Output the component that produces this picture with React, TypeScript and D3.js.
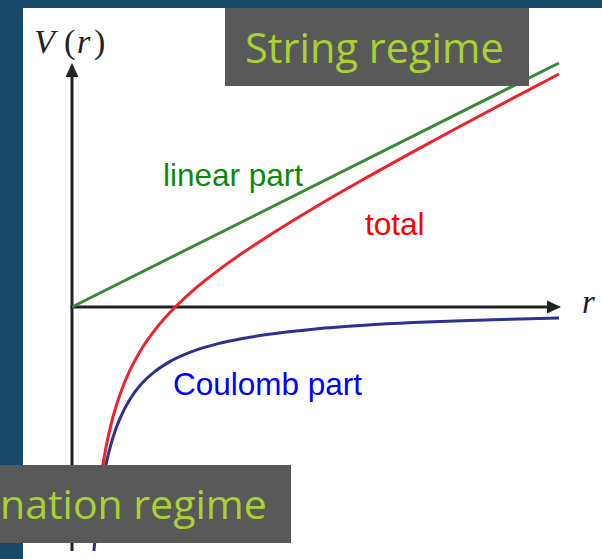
import React from "react";
import * as d3 from "d3";

// Radial distance samples and potential values (arbitrary units)
const linearR = [0, 10];
const linearV = [0, 10];

const coulombR = [0.45, 0.5, 0.55, 0.6, 0.7, 0.8, 0.9, 1.0, 1.2, 1.4, 1.7, 2.0, 2.5, 3.0, 3.5, 4.0, 5.0, 6.0, 7.0, 8.0, 9.0, 10];
const coulombV = [-10.0, -9.0, -8.18, -7.5, -6.43, -5.63, -5.0, -4.5, -3.75, -3.21, -2.65, -2.25, -1.8, -1.5, -1.29, -1.13, -0.9, -0.75, -0.64, -0.56, -0.5, -0.45];

const totalR = [0.46, 0.5, 0.55, 0.6, 0.7, 0.8, 0.9, 1.0, 1.2, 1.4, 1.7, 2.0, 2.5, 3.0, 3.5, 4.0, 5.0, 6.0, 7.0, 8.0, 9.0, 10];
const totalV = [-9.32, -8.5, -7.63, -6.9, -5.73, -4.83, -4.1, -3.5, -2.55, -1.81, -0.95, -0.25, 0.7, 1.5, 2.21, 2.87, 4.1, 5.25, 6.36, 7.44, 8.5, 9.55];

const labels = { linear: "linear part", total: "total", coulomb: "Coulomb part" };
const regimeTop = "String regime";
const regimeBottom = "nation regime";

const W = 602;
const H = 559;

export default function App() {
  const x = d3.scaleLinear().domain([0, 10]).range([72, 559]);
  const y = d3.scaleLinear().domain([0, 10]).range([307, 63]);

  const line = d3
    .line<[number, number]>()
    .x((d) => x(d[0]))
    .y((d) => y(d[1]))
    .curve(d3.curveMonotoneX);

  const zip = (a: number[], b: number[]) => a.map((v, i) => [v, b[i]] as [number, number]);

  const x0 = x(0);
  const y0 = y(0);
  const axisColor = "#222";

  return (
    <svg
      width={W}
      height={H}
      style={{ position: "absolute", left: 0, top: 0, display: "block" }}
    >
      <rect x={0} y={0} width={W} height={H} fill="#1a4869" />
      <rect x={23} y={8} width={W - 23} height={H - 8} fill="#ffffff" />

      {/* axes with arrowheads */}
      <line x1={x0} y1={551} x2={x0} y2={74} stroke={axisColor} strokeWidth={3} />
      <path d={`M${x0},63 L${x0 - 6.5},77 L${x0 + 6.5},77 Z`} fill={axisColor} />
      <line x1={x0 - 1.5} y1={y0} x2={550} y2={y0} stroke={axisColor} strokeWidth={3} />
      <path d={`M561,${y0} L547,${y0 - 6.5} L547,${y0 + 6.5} Z`} fill={axisColor} />

      {/* curves */}
      <path d={line(zip(linearR, linearV)) || ""} fill="none" stroke="#3a8a3a" strokeWidth={3} />
      <path d={line(zip(totalR, totalV)) || ""} fill="none" stroke="#ee2229" strokeWidth={3} />
      <path d={line(zip(coulombR, coulombV)) || ""} fill="none" stroke="#2e318f" strokeWidth={3} />

      {/* axis labels */}
      <text
        y={53}
        fontFamily="'Liberation Serif', 'DejaVu Serif', serif"
        fontSize={34}
        fill="#222"
      >
        <tspan x={34} fontStyle="italic">V</tspan>
        <tspan x={64}>(</tspan>
        <tspan x={77} fontStyle="italic">r</tspan>
        <tspan x={94}>)</tspan>
      </text>
      <text
        x={582}
        y={313}
        fontFamily="'Liberation Serif', 'DejaVu Serif', serif"
        fontStyle="italic"
        fontSize={33}
        fill="#222"
      >
        r
      </text>

      {/* curve labels */}
      <g fontFamily="'Liberation Sans', Arial, sans-serif" fontSize={31.5}>
        <text x={163} y={186} fill="#0a8a0a">{labels.linear}</text>
        <text x={365} y={235} fill="#ff0000">{labels.total}</text>
        <text x={173} y={395} fill="#0000ff">{labels.coulomb}</text>
      </g>

      {/* regime banners */}
      <rect x={225} y={8} width={304} height={78} fill="#595959" />
      <text
        x={245}
        y={63}
        fontFamily="'Open Sans', 'Noto Sans', sans-serif"
        fontSize={41.5}
        fill="#a9d134"
      >
        {regimeTop}
      </text>
      <rect x={0} y={465} width={291} height={78} fill="#595959" />
      <text
        x={0}
        y={519}
        fontFamily="'Open Sans', 'Noto Sans', sans-serif"
        fontSize={41}
        fill="#a9d134"
      >
        {regimeBottom}
      </text>
    </svg>
  );
}
